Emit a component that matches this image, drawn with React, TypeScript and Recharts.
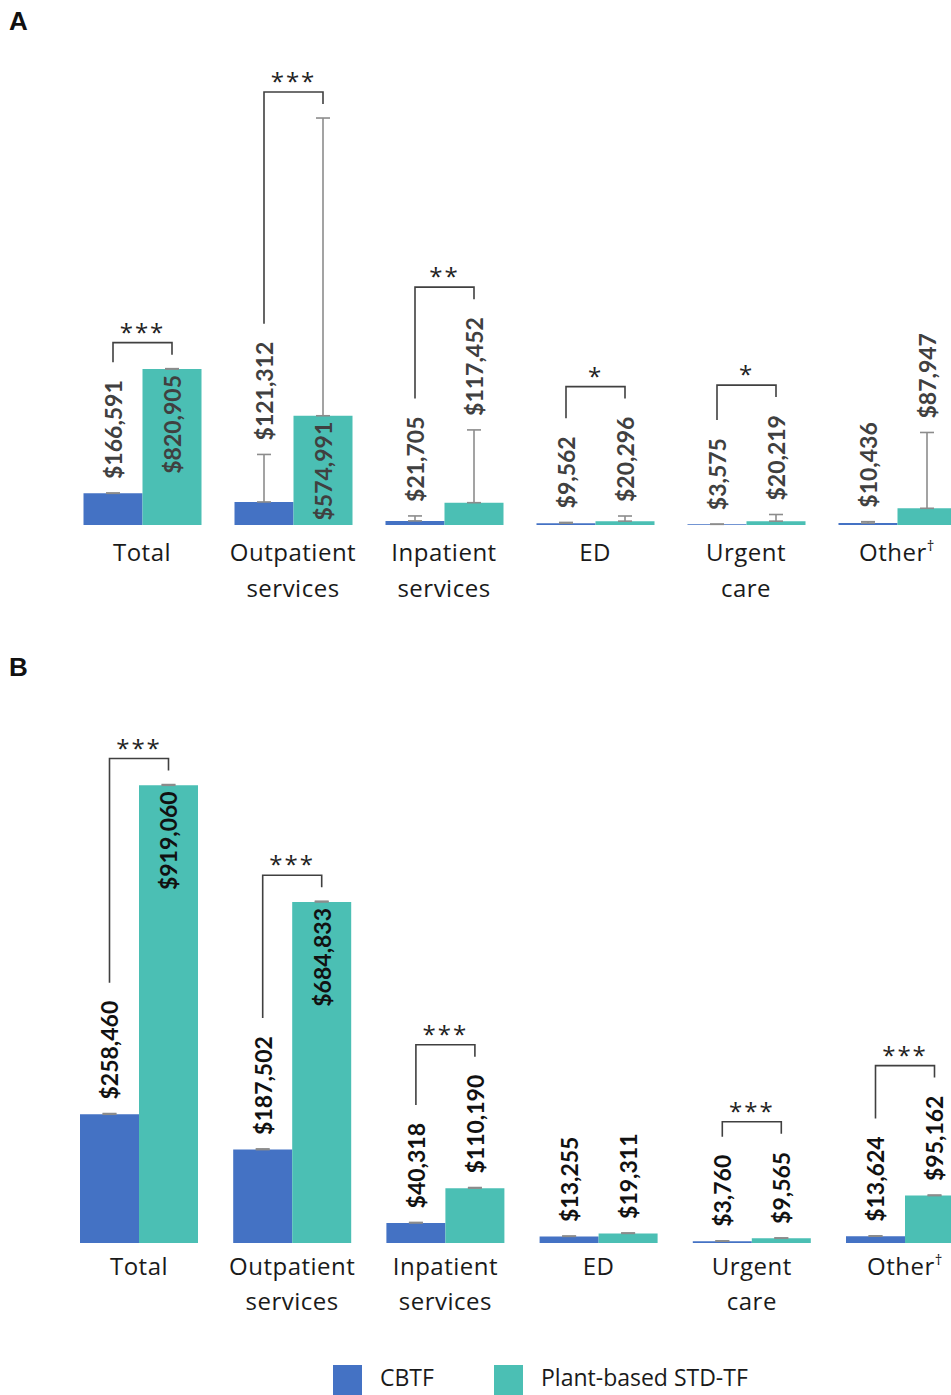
import React from 'react'
import { BarChart, Bar, XAxis, YAxis, ErrorBar, LabelList } from 'recharts'

const CATEGORIES = ['Total', 'Outpatient services', 'Inpatient services', 'ED', 'Urgent care', 'Other†']

// A
const A_CBTF = [166591, 121312, 21705, 9562, 3575, 10436]
const A_STD = [820905, 574991, 117452, 20296, 20219, 87947]
const A_CBTF_ERR = [2000, 250000, 26000, 4000, 1000, 7000]
const A_STD_ERR = [2000, 1567000, 383000, 27000, 35000, 399000]
const A_SIG = ['***', '***', '**', '*', '*', '']

// B
const B_CBTF = [258460, 187502, 40318, 13255, 3760, 13624]
const B_STD = [919060, 684833, 110190, 19311, 9565, 95162]
const B_CBTF_ERR = [1500, 1500, 1000, 800, 600, 800]
const B_STD_ERR = [1500, 1500, 1200, 900, 700, 1200]
const B_SIG = ['***', '***', '***', '', '***', '***']

const SERIES_NAMES = ['CBTF', 'Plant-based STD-TF']

const BLUE = '#4472C4'
const TEAL = '#4BBFB4'
const WHISKER = '#8c8c8c'
const BRACKET = '#404040'
const CAT_FONT = '"Open Sans", "Noto Sans", sans-serif'
const VALUE_FONT = 'Lato, "Open Sans", sans-serif'
const VALUE_SIZE = 23

type Row = {
  name: string
  cbtf: number
  std: number
  cbtfErr: [number, number]
  stdErr: [number, number]
  sig: string
}

function buildRows(cbtf: number[], std: number[], cbtfErr: number[], stdErr: number[], sig: string[]): Row[] {
  return CATEGORIES.map((name, i) => ({
    name,
    cbtf: cbtf[i],
    std: std[i],
    cbtfErr: [0, cbtfErr[i]],
    stdErr: [0, stdErr[i]],
    sig: sig[i],
  }))
}

const rowsA = buildRows(A_CBTF, A_STD, A_CBTF_ERR, A_STD_ERR, A_SIG)
const rowsB = buildRows(B_CBTF, B_STD, B_CBTF_ERR, B_STD_ERR, B_SIG)

const fmt = (v: number) => '$' + v.toLocaleString('en-US')

let ctx: CanvasRenderingContext2D | null = null
function textWidth(s: string): number {
  if (!ctx) ctx = document.createElement('canvas').getContext('2d')
  if (!ctx) return s.length * VALUE_SIZE * 0.55
  ctx.font = `bold ${VALUE_SIZE}px Lato`
  return ctx.measureText(s).width
}

const LABEL_GAP = 14
const LEG_GAP = 18

function valueLabel(rows: Row[], series: 'cbtf' | 'std', color: string) {
  return (props: any) => {
    const { x, y, width, height, index } = props
    const row = rows[index]
    const value = row[series]
    const h = Math.abs(height)
    const base = Math.max(y, y + height)
    const k = h / value
    const cx = x + width / 2
    const text = fmt(value)
    const tw = textWidth(text)
    const whiskerTop = base - (value + row[series === 'cbtf' ? 'cbtfErr' : 'stdErr'][1]) * k
    const inside = series === 'std' && h > tw + 6

    const anchorY = inside ? base - h + 6 : whiskerTop - LABEL_GAP
    const label = (
      <text
        x={cx}
        y={anchorY}
        transform={`rotate(-90 ${cx} ${anchorY})`}
        textAnchor={inside ? 'end' : 'start'}
        dominantBaseline="central"
        fontFamily={VALUE_FONT}
        fontWeight={700}
        fontSize={VALUE_SIZE}
        fill={color}
      >
        {text}
      </text>
    )
    if (series === 'cbtf' || !row.sig) return label

    // significance bracket between the pair
    const bx = cx - width
    const blueTop = base - (row.cbtf + row.cbtfErr[1]) * k
    const leftEnd = blueTop - LABEL_GAP - textWidth(fmt(row.cbtf)) - LEG_GAP
    const rightEnd = inside ? whiskerTop - 14 : anchorY - tw - LEG_GAP
    const top = Math.min(leftEnd, rightEnd) - 12
    return (
      <g>
        {label}
        <path
          d={`M${bx},${leftEnd} V${top} H${cx} V${rightEnd}`}
          fill="none"
          stroke={BRACKET}
          strokeWidth={1.6}
        />
        <text
          x={(bx + cx) / 2}
          y={top - 2}
          textAnchor="middle"
          fontFamily={CAT_FONT}
          fontSize={24}
          letterSpacing={2}
          fill="#222"
        >
          {row.sig}
        </text>
      </g>
    )
  }
}

function categoryTick(line1: number, line2: number) {
  return (props: any) => {
    const { x, y, payload } = props
    const label: string = payload.value
    const common = {
      textAnchor: 'middle' as const,
      fontFamily: CAT_FONT,
      fontSize: 24,
      letterSpacing: 0.5,
      fill: '#1a1a1a',
    }
    if (label.endsWith('†')) {
      return (
        <text x={x} y={y + line1} {...common}>
          {label.slice(0, -1)}
          <tspan fontSize={15} dy={-10}>
            †
          </tspan>
        </text>
      )
    }
    const lines = label.split(' ')
    return (
      <g>
        {lines.map((l, i) => (
          <text key={i} x={x} y={y + (i === 0 ? line1 : line2)} {...common}>
            {l}
          </text>
        ))}
      </g>
    )
  }
}

type PanelProps = {
  rows: Row[]
  top: number
  height: number
  yMax: number
  margin: { top: number; left: number; right: number; bottom: number }
  gap: number
  labelColor: string
  line1: number
  line2: number
}

function Panel({ rows, top, height, yMax, margin, gap, labelColor, line1, line2 }: PanelProps) {
  return (
    <div style={{ position: 'absolute', left: 0, top }}>
      <BarChart width={1000} height={height} data={rows} margin={margin} barGap={0} barCategoryGap={gap}>
        <XAxis
          dataKey="name"
          axisLine={false}
          tickLine={false}
          tickSize={0}
          tickMargin={0}
          height={80}
          interval={0}
          tick={categoryTick(line1, line2)}
        />
        <YAxis hide domain={[0, yMax]} allowDataOverflow />
        <Bar dataKey="cbtf" name={SERIES_NAMES[0]} fill={BLUE} isAnimationActive={false}>
          <ErrorBar dataKey="cbtfErr" direction="y" width={7} stroke={WHISKER} strokeWidth={1.6} isAnimationActive={false} />
          <LabelList dataKey="cbtf" content={valueLabel(rows, 'cbtf', labelColor)} />
        </Bar>
        <Bar dataKey="std" name={SERIES_NAMES[1]} fill={TEAL} isAnimationActive={false}>
          <ErrorBar dataKey="stdErr" direction="y" width={7} stroke={WHISKER} strokeWidth={1.6} isAnimationActive={false} />
          <LabelList dataKey="std" content={valueLabel(rows, 'std', labelColor)} />
        </Bar>
      </BarChart>
    </div>
  )
}

const heading: React.CSSProperties = {
  position: 'absolute',
  left: 9,
  fontFamily: '"Liberation Sans", Arial, sans-serif',
  fontWeight: 700,
  fontSize: 26,
  lineHeight: '26px',
  color: '#111',
}

const legendText: React.CSSProperties = {
  position: 'absolute',
  fontFamily: CAT_FONT,
  fontSize: 23,
  lineHeight: '24px',
  color: '#1a1a1a',
  whiteSpace: 'nowrap',
}

export default function App() {
  return (
    <div style={{ position: 'fixed', left: 0, top: 0, width: 951, height: 1395, overflow: 'hidden', background: '#fff' }}>
      <div style={{ ...heading, top: 8 }}>A</div>
      <div style={{ ...heading, top: 654 }}>B</div>
      <Panel
        rows={rowsA}
        top={0}
        height={620}
        yMax={2500000}
        margin={{ top: 50, left: 66.5, right: 27.5, bottom: 15 }}
        gap={17}
        labelColor="#404040"
        line1={36}
        line2={72}
      />
      <Panel
        rows={rowsB}
        top={680}
        height={715}
        yMax={1000000}
        margin={{ top: 65, left: 62.4, right: 18.4, bottom: 72 }}
        gap={17.6}
        labelColor="#111"
        line1={32}
        line2={67}
      />
      <div style={{ position: 'absolute', left: 333, top: 1365, width: 29, height: 30, background: BLUE }} />
      <div style={{ ...legendText, left: 380, top: 1365 }}>{SERIES_NAMES[0]}</div>
      <div style={{ position: 'absolute', left: 494, top: 1365, width: 29, height: 30, background: TEAL }} />
      <div style={{ ...legendText, left: 541, top: 1365 }}>{SERIES_NAMES[1]}</div>
    </div>
  )
}
